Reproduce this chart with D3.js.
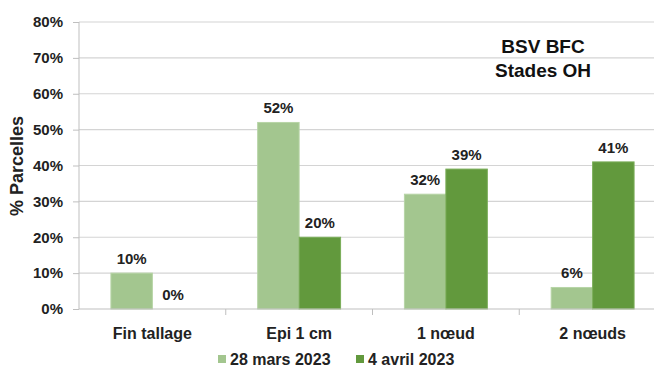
<!DOCTYPE html>
<html><head><meta charset="utf-8">
<script src="https://cdn.jsdelivr.net/npm/d3@7"></script>
<style>body{margin:0;background:#fff}svg{display:block;font-family:"Liberation Sans",Arial,sans-serif;font-weight:bold}</style>
</head><body><svg id="c" width="654" height="370"></svg>
<script>
const categories = ["Fin tallage", "Epi 1 cm", "1 nœud", "2 nœuds"];
const seriesNames = ["28 mars 2023", "4 avril 2023"];
const mars28 = [10, 52, 32, 6];
const avril4 = [0, 20, 39, 41];
const yTicks = [0, 10, 20, 30, 40, 50, 60, 70, 80];
const colors = ["#a3c68f", "#62993d"];
const title = ["BSV BFC", "Stades OH"];
const yLabel = "% Parcelles";

const svg = d3.select("#c");
const x0 = 79, x1 = 666, yTop = 22, yBot = 309;
const x = d3.scaleBand().domain(categories).range([x0, x1]).paddingInner(0).paddingOuter(0);
const y = d3.scaleLinear().domain([0, 80]).range([yBot, yTop]);
const xs = d3.scaleBand().domain([0, 1]).range([0, x.bandwidth()]).paddingOuter(0.77).paddingInner(0);

// gridlines
svg.append("g").selectAll("line").data(yTicks.filter(d => d > 0)).join("line")
  .attr("x1", x0).attr("x2", x1).attr("y1", d => y(d)).attr("y2", d => y(d))
  .attr("stroke", "#d4d4d4").attr("stroke-width", 1.2);

// y axis
const ya = svg.append("g").attr("transform", `translate(${x0},0)`)
  .call(d3.axisLeft(y).tickValues(yTicks).tickFormat(d => d + "%").tickSize(6).tickPadding(10));
ya.select(".domain").attr("stroke", "#bfbfbf").attr("d", `M0,${yTop}V${yBot}`);
ya.selectAll(".tick line").attr("stroke", "#bfbfbf");
ya.selectAll(".tick text").attr("font-size", 15).attr("font-weight", "bold").attr("fill", "#222")
  .attr("font-family", '"Liberation Sans",Arial,sans-serif');

// bars
const data = categories.map((c, i) => ({c, v: [mars28[i], avril4[i]]}));
const g = svg.append("g").selectAll("g").data(data).join("g")
  .attr("transform", d => `translate(${x(d.c)},0)`);
g.selectAll("rect").data(d => d.v.map((v, k) => ({v, k}))).join("rect")
  .attr("x", d => xs(d.k)).attr("width", xs.bandwidth())
  .attr("y", d => y(d.v)).attr("height", d => yBot - y(d.v))
  .attr("fill", d => colors[d.k]).attr("stroke", d => d.k ? "#7aad58" : "#b7d4a6").attr("stroke-width", 1);
g.selectAll("text").data(d => d.v.map((v, k) => ({v, k}))).join("text")
  .attr("x", d => xs(d.k) + xs.bandwidth() / 2).attr("y", d => y(d.v) - 9)
  .attr("text-anchor", "middle").attr("font-size", 15).attr("fill", "#222")
  .text(d => d.v + "%");

// x axis
const xa = svg.append("g").attr("transform", `translate(0,${yBot})`)
  .call(d3.axisBottom(x).tickSize(0).tickPadding(19));
xa.select(".domain").attr("stroke", "#bfbfbf").attr("d", `M${x0},0H${x1}`);
xa.selectAll(".tick text").attr("font-size", 16).attr("font-weight", "bold").attr("fill", "#222")
  .attr("font-family", '"Liberation Sans",Arial,sans-serif');
svg.append("g").selectAll("line").data(categories.slice(1)).join("line")
  .attr("x1", d => x(d)).attr("x2", d => x(d)).attr("y1", yBot).attr("y2", yBot + 6)
  .attr("stroke", "#bfbfbf");

// y label
svg.append("text").attr("transform", "translate(23,166) rotate(-90)")
  .attr("text-anchor", "middle").attr("font-size", 18).attr("fill", "#222").text(yLabel);

// title
svg.append("g").selectAll("text").data(title).join("text")
  .attr("x", 543).attr("y", (d, i) => 53 + i * 23.5).attr("text-anchor", "middle")
  .attr("font-size", 19).attr("fill", "#111").text(d => d);

// legend
const legX = [218, 356];
const lg = svg.append("g").selectAll("g").data(seriesNames).join("g")
  .attr("transform", (d, i) => `translate(${legX[i]},359)`);
lg.append("rect").attr("x", 0).attr("y", -4).attr("width", 8).attr("height", 8).attr("fill", (d, i) => colors[i]);
lg.append("text").attr("x", 12).attr("y", 6).attr("font-size", 16).attr("fill", "#222").text(d => d);
</script></body></html>
